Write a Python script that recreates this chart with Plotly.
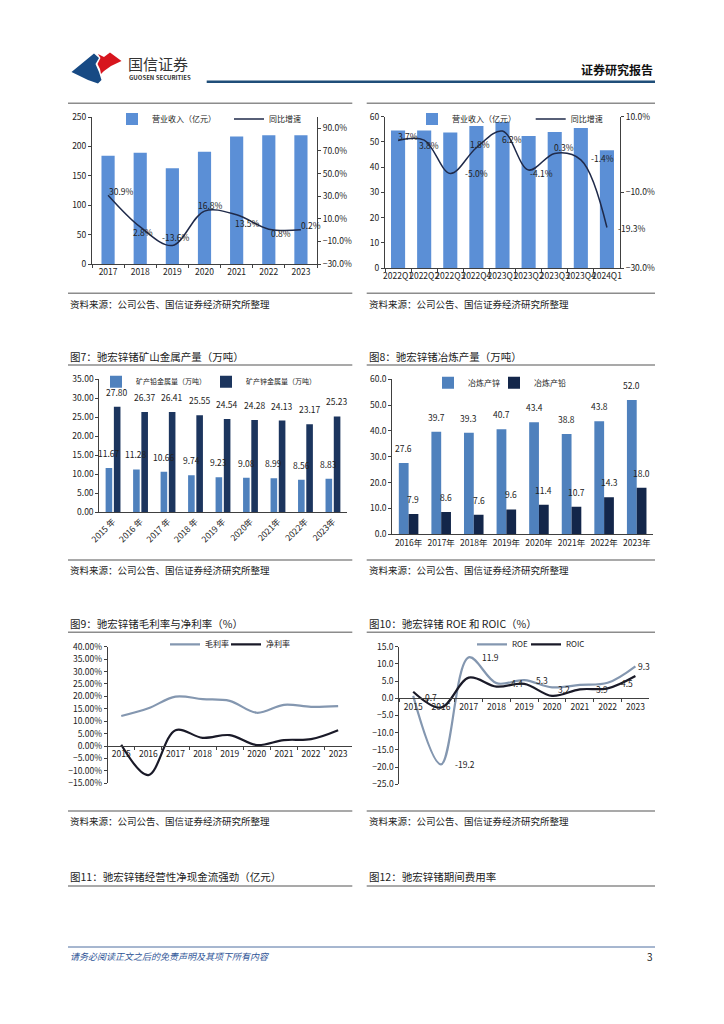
import plotly.graph_objects as go

# ---------------- data ----------------
rev_years = ["2017", "2018", "2019", "2020", "2021", "2022", "2023"]
rev_values = [184, 189, 163, 191, 217, 219, 219]
rev_growth = [30.9, 2.8, -13.6, 16.8, 13.5, 0.8, 0.2]

q_labels = ["2022Q1", "2022Q2", "2022Q3", "2022Q4", "2023Q1", "2023Q2", "2023Q3", "2023Q4", "2024Q1"]
q_rev = [54.5, 54.5, 53.7, 56.3, 57.9, 52.3, 53.9, 55.5, 46.7]
q_growth = [3.7, 3.8, -5.0, 1.8, 6.2, -4.1, 0.3, -1.4, -19.3]

mine_years = ["2015 年", "2016 年", "2017 年", "2018 年", "2019 年", "2020年", "2021年", "2022年", "2023年"]
mine_lead = [11.67, 11.28, 10.66, 9.74, 9.23, 9.08, 8.99, 8.56, 8.83]
mine_zinc = [27.80, 26.37, 26.41, 25.55, 24.54, 24.28, 24.13, 23.17, 25.23]

smelt_years = ["2016年", "2017年", "2018年", "2019年", "2020年", "2021年", "2022年", "2023年"]
smelt_zinc = [27.6, 39.7, 39.3, 40.7, 43.4, 38.8, 43.8, 52.0]
smelt_lead = [7.9, 8.6, 7.6, 9.6, 11.4, 10.7, 14.3, 18.0]

margin_years = ["2015", "2016", "2017", "2018", "2019", "2020", "2021", "2022", "2023"]
gross_margin = [12.1, 15.2, 19.9, 18.9, 18.2, 13.4, 16.6, 15.8, 16.1]
net_margin = [0.5, -11.7, 6.4, 3.3, 4.4, 0.4, 2.4, 2.8, 6.4]

ret_years = ["2015", "2016", "2017", "2018", "2019", "2020", "2021", "2022", "2023"]
roe = [0.7, -19.2, 11.9, 4.4, 5.3, 3.2, 3.9, 4.5, 9.3]
roic = [1.9, -2.7, 6.0, 3.4, 4.2, 0.7, 2.6, 2.9, 6.5]

# ---------------- styling helpers ----------------
W, H = 724, 1024
OFF = 8  # page body margin of the html page
FONT = "Noto Sans CJK SC"
TXT = "#222222"
AX = "#404040"
GRAYLINE = "#8c8c8c"
BAR_BRIGHT = "#5B8FD6"
LINE_NAVY = "#1F2A4A"
BAR_LIGHT = "#4F81BD"
BAR_NAVY = "#1C355E"
BAR_NAVY2 = "#13264A"
STEEL = "#8497B0"
DARK = "#1A1A28"


def px(x):
    return (x - OFF) / W


def py(y):
    return 1 - (y - OFF) / H


fig = go.Figure()

# ---------- chart 1: annual revenue ----------
fig.add_trace(go.Bar(x=rev_years, y=rev_values, name="营业收入（亿元）", marker_color=BAR_BRIGHT,
                     width=0.41, offset=-0.205, xaxis="x", yaxis="y", legend="legend"))
fig.add_trace(go.Scatter(x=rev_years, y=rev_growth, name="同比增速", mode="lines",
                         line=dict(color=LINE_NAVY, width=1.5, shape="spline"),
                         xaxis="x", yaxis="y2", legend="legend2"))

# ---------- chart 2: quarterly revenue ----------
fig.add_trace(go.Bar(x=q_labels, y=q_rev, name="营业收入（亿元）", marker_color=BAR_BRIGHT,
                     width=0.54, offset=-0.27, xaxis="x2", yaxis="y3", legend="legend3"))
fig.add_trace(go.Scatter(x=q_labels, y=q_growth, name="同比增速", mode="lines",
                         line=dict(color=LINE_NAVY, width=1.5, shape="spline"),
                         xaxis="x2", yaxis="y4", legend="legend4"))

# ---------- chart 3: mine metal output ----------
fig.add_trace(go.Bar(x=mine_years, y=mine_lead, name="矿产铅金属量（万吨）", marker_color=BAR_LIGHT,
                     width=0.24, offset=-0.27, xaxis="x3", yaxis="y5", legend="legend5"))
fig.add_trace(go.Bar(x=mine_years, y=mine_zinc, name="矿产锌金属量（万吨）", marker_color=BAR_NAVY,
                     width=0.24, offset=0.03, xaxis="x3", yaxis="y5", legend="legend6"))

# ---------- chart 4: smelting output ----------
fig.add_trace(go.Bar(x=smelt_years, y=smelt_zinc, name="冶炼产锌", marker_color=BAR_LIGHT,
                     width=0.3, offset=-0.3, xaxis="x4", yaxis="y6", legend="legend7"))
fig.add_trace(go.Bar(x=smelt_years, y=smelt_lead, name="冶炼产铅", marker_color=BAR_NAVY2,
                     width=0.3, offset=0.0, xaxis="x4", yaxis="y6", legend="legend8"))

# ---------- chart 5: margins ----------
fig.add_trace(go.Scatter(x=margin_years, y=gross_margin, name="毛利率", mode="lines",
                         line=dict(color=STEEL, width=2.2, shape="spline"),
                         xaxis="x5", yaxis="y7", legend="legend9"))
fig.add_trace(go.Scatter(x=margin_years, y=net_margin, name="净利率", mode="lines",
                         line=dict(color=DARK, width=2.2, shape="spline"),
                         xaxis="x5", yaxis="y7", legend="legend10"))

# ---------- chart 6: ROE / ROIC ----------
fig.add_trace(go.Scatter(x=ret_years, y=roe, name="ROE", mode="lines",
                         line=dict(color=STEEL, width=2.2, shape="spline"),
                         xaxis="x6", yaxis="y8", legend="legend11"))
fig.add_trace(go.Scatter(x=ret_years, y=roic, name="ROIC", mode="lines",
                         line=dict(color=DARK, width=2.2, shape="spline"),
                         xaxis="x6", yaxis="y8", legend="legend12"))

tickfont = dict(family=FONT, size=8.5, color=TXT)


def xcat(domain, anchor, n, **kw):
    d = dict(domain=[px(domain[0]), px(domain[1])], anchor=anchor, type="category",
             range=[-0.5, n - 0.5], showline=True, linecolor=AX, linewidth=1,
             ticks="outside", tickson="boundaries", ticklen=3, tickcolor=AX,
             tickfont=tickfont, tickangle=0, showgrid=False, zeroline=False,
             fixedrange=True, automargin=False)
    d.update(kw)
    return d


def yval(domain, anchor, rng, dtick, **kw):
    d = dict(domain=[py(domain[1]), py(domain[0])], anchor=anchor, range=rng, dtick=dtick,
             showline=True, linecolor=AX, linewidth=1, ticks="outside", ticklen=3,
             tickcolor=AX, tickfont=tickfont, showgrid=False, zeroline=False,
             fixedrange=True, automargin=False)
    d.update(kw)
    return d


layout = dict(
    template="none",
    width=W, height=H, margin=dict(l=0, r=0, t=0, b=0, pad=0, autoexpand=False),
    paper_bgcolor="white", plot_bgcolor="rgba(0,0,0,0)",
    barmode="overlay", font=dict(family=FONT, color=TXT), showlegend=True,
    xaxis=xcat((92, 317), "y", len(rev_years)),
    yaxis=yval((117, 264), "x", [0, 250], 50),
    yaxis2=yval((117, 264), "x", [-30, 100], 20, overlaying="y", side="right",
                tick0=-30, tickformat=".1f", ticksuffix="%"),
    xaxis2=xcat((385, 620), "y3", len(q_labels)),
    yaxis3=yval((116.7, 268), "x2", [0, 60], 10),
    yaxis4=yval((116.7, 268), "x2", [-30, 10], 20, overlaying="y3", side="right",
                tick0=-30, tickformat=".1f", ticksuffix="%"),
    xaxis3=xcat((99.3, 346.7), "y5", len(mine_years), tickangle=-45, ticks=""),
    yaxis5=yval((379.3, 512.3), "x3", [0, 35], 5, tickformat=".2f"),
    xaxis4=xcat((392.3, 653), "y6", len(smelt_years), ticks=""),
    yaxis6=yval((379.3, 534.3), "x4", [0, 60], 10, tickformat=".1f"),
    xaxis5=xcat((107.7, 351.7), "free", len(margin_years), position=py(746)),
    yaxis7=yval((646.7, 783.3), "x5", [-15, 40], 5, tickformat=".2f", ticksuffix="%"),
    xaxis6=xcat((399.3, 649.3), "free", len(ret_years), position=py(698.3)),
    yaxis8=yval((646.7, 784.3), "x6", [-25, 15], 5, tickformat=".1f"),
)


def leg(x, y, size=8):
    return dict(x=px(x), y=py(y), xanchor="left", yanchor="middle", orientation="h",
                bgcolor="rgba(0,0,0,0)", font=dict(family=FONT, size=size, color=TXT),
                itemwidth=30, tracegroupgap=0)


# one legend per series, placed like the reference legend entries
legend_pos = [
    (112, 119, 8), (229, 119, 8),          # chart 1
    (412, 119, 8), (530.7, 119, 8),        # chart 2
    (96, 381.7, 7), (206, 381.7, 7),       # chart 3
    (428, 382.7, 8), (494, 382.7, 8),      # chart 4
    (165, 644.3, 8), (226, 644.3, 8),      # chart 5
    (472, 644.3, 8), (526, 644.3, 8),      # chart 6
]
for k, (lx, ly, ls) in enumerate(legend_pos):
    key = "legend" if k == 0 else f"legend{k + 1}"
    layout[key] = leg(lx, ly, ls)

fig.update_layout(**layout)

ann = []


def text(x, y, s, size=10, anchor="left", color=TXT, **kw):
    ann.append(dict(x=px(x), y=py(y), xref="paper", yref="paper", text=s, showarrow=False,
                    xanchor=anchor, yanchor="middle", font=dict(family=FONT, size=size, color=color), **kw))


# header
text(126, 63, "国信证券", size=15, color="#333333")
text(127, 77.5, "<b>GUOSEN SECURITIES</b>", size=6, color="#333333")
text(655, 69.5, "<b>证券研究报告</b>", size=12, anchor="right", color="#111111")

# titles & sources
src = "资料来源：公司公告、国信证券经济研究所整理"
for xl in (68, 367):
    text(xl, 303.5, src, size=9.5)
    text(xl, 570, src, size=9.5)
    text(xl, 821, src, size=9.5)
text(68, 356.5, "图7：驰宏锌锗矿山金属产量（万吨）", size=10.5)
text(367, 356.5, "图8：驰宏锌锗冶炼产量（万吨）", size=10.5)
text(68, 623.5, "图9：驰宏锌锗毛利率与净利率（%）", size=10.5)
text(367, 623.5, "图10：驰宏锌锗 ROE 和 ROIC（%）", size=10.5)
text(68, 876, "图11：驰宏锌锗经营性净现金流强劲（亿元）", size=10.5)
text(367, 876, "图12：驰宏锌锗期间费用率", size=10.5)

# footer
text(68, 956, "<i>请务必阅读正文之后的免责声明及其项下所有内容</i>", size=9, color="#2F5597")
text(655, 956, "3", size=10, anchor="right")

lblfont = dict(family=FONT, size=8.5, color=TXT)

# chart 1 growth labels
c1_shift = [(13, 4), (3, -5), (3, 8), (6, 6), (11, -8), (12, -4), (10, 5)]
for i, (yv, (dx, dy)) in enumerate(zip(rev_growth, c1_shift)):
    ann.append(dict(x=i, y=yv, xref="x", yref="y2", text=f"{yv:.1f}%", showarrow=False,
                    xshift=dx, yshift=dy, font=lblfont))

# chart 2 growth labels
c2_shift = [(10, 5), (5, -5), (26, 0), (4, 4), (9, -8), (13, -3), (9, 6), (22, 2), (25, 0)]
for i, (yv, (dx, dy)) in enumerate(zip(q_growth, c2_shift)):
    ann.append(dict(x=i, y=yv, xref="x2", yref="y4", text=f"{yv:.1f}%", showarrow=False,
                    xshift=dx, yshift=dy, font=lblfont))

# chart 3 bar labels
for i, (a, b) in enumerate(zip(mine_lead, mine_zinc)):
    ann.append(dict(x=i - 0.15, y=a, xref="x3", yref="y5", text=f"{a:.2f}", showarrow=False,
                    yanchor="bottom", yshift=7, font=lblfont))
    ann.append(dict(x=i + 0.15, y=b, xref="x3", yref="y5", text=f"{b:.2f}", showarrow=False,
                    yanchor="bottom", yshift=7, font=lblfont))

# chart 4 bar labels
for i, (a, b) in enumerate(zip(smelt_zinc, smelt_lead)):
    ann.append(dict(x=i - 0.15, y=a, xref="x4", yref="y6", text=f"{a:.1f}", showarrow=False,
                    yanchor="bottom", yshift=7, font=lblfont))
    ann.append(dict(x=i + 0.15, y=b, xref="x4", yref="y6", text=f"{b:.1f}", showarrow=False,
                    yanchor="bottom", yshift=7, font=lblfont))

# chart 6 ROE labels
c6_shift = [(18, -1), (24, 0), (22, 0), (20, 0), (18, 0), (12, -2), (22, -4), (19, 0), (9, 0)]
for i, (yv, (dx, dy)) in enumerate(zip(roe, c6_shift)):
    ann.append(dict(x=i, y=yv, xref="x6", yref="y8", text=f"{yv:.1f}", showarrow=False,
                    xshift=dx, yshift=dy, font=lblfont))

shapes = []


def hline(x0, x1, y, color=GRAYLINE, width=1.5):
    shapes.append(dict(type="line", xref="paper", yref="paper", x0=px(x0), x1=px(x1),
                       y0=py(y), y1=py(y), line=dict(color=color, width=width)))


hline(206.7, 655, 81.7, color="#1F4E79", width=2.5)
for yy in (103.3, 293.3, 365, 560, 632.3, 811, 886):
    hline(68, 352.3, yy)
    hline(366.7, 655, yy)
hline(68, 655, 947, color="#4F6FA0", width=1)


def poly(points, color):
    path = "M " + " L ".join(f"{px(a):.5f},{py(b):.5f}" for a, b in points) + " Z"
    shapes.append(dict(type="path", xref="paper", yref="paper", path=path,
                       fillcolor=color, line=dict(width=0)))


poly([(71.5, 72), (94, 53.5), (99, 58), (95.5, 64), (99, 72), (101.5, 80), (98, 83.5), (88, 80)], "#174A84")
poly([(98, 54), (104, 57), (110, 52.5), (121.5, 61), (111, 66), (104, 71), (101, 74),
      (100, 69), (97.5, 64), (100.5, 58)], "#D7151E")

fig.update_layout(annotations=ann, shapes=shapes)
fig.write_html("out.html")
